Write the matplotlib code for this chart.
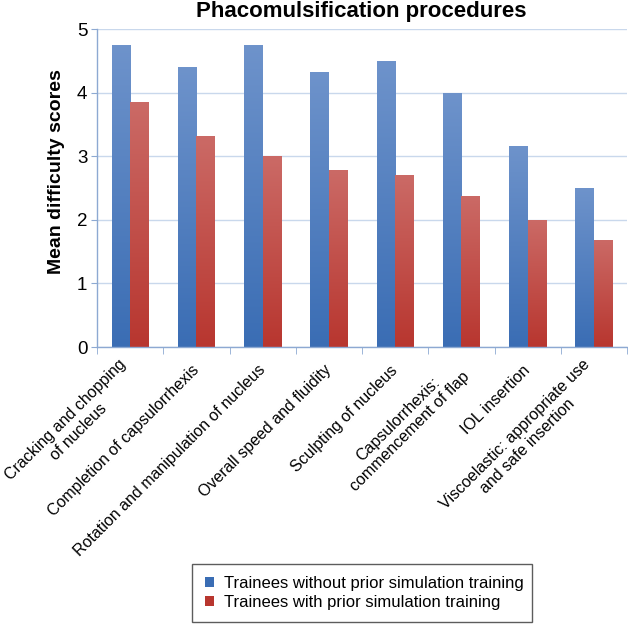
import numpy as np
import matplotlib
matplotlib.use("Agg")
import matplotlib.pyplot as plt
from matplotlib.colors import LinearSegmentedColormap
from matplotlib.patches import Patch

plt.rcParams['font.family'] = ['Liberation Sans', 'DejaVu Sans']

categories = [
    "Cracking and chopping\nof nucleus",
    "Completion of capsulorrhexis",
    "Rotation and manipulation of nucleus",
    "Overall speed and fluidity",
    "Sculpting of nucleus",
    "Capsulorrhexis:\ncommencement of flap",
    "IOL insertion",
    "Viscoelastic: appropriate use\nand safe insertion",
]
without_prior = [4.75, 4.40, 4.75, 4.33, 4.50, 4.00, 3.17, 2.50]
with_prior = [3.85, 3.32, 3.00, 2.78, 2.70, 2.38, 2.00, 1.69]
series_names = ["Trainees without prior simulation training",
                "Trainees with prior simulation training"]
yticks = [0, 1, 2, 3, 4, 5]

W, H = 628, 624
fig = plt.figure(figsize=(W / 100, H / 100), dpi=100)
ax = fig.add_axes([97 / W, 1 - 347 / H, (627 - 97) / W, (347 - 29.3) / H])

x = np.arange(len(categories))
bw = 0.28
blue_top, blue_bot = "#6E93CB", "#3A6DB4"
red_top, red_bot = "#CB6A66", "#B8362F"

b1 = ax.bar(x - bw / 2, without_prior, bw, color=blue_bot, zorder=2, linewidth=0)
b2 = ax.bar(x + bw / 2, with_prior, bw, color=red_bot, zorder=2, linewidth=0)

grad = np.linspace(0, 1, 256).reshape(-1, 1)
for bars, top, bot in ((b1, blue_top, blue_bot), (b2, red_top, red_bot)):
    cmap = LinearSegmentedColormap.from_list("g", [bot, top])
    for r in bars:
        x0, y0 = r.get_x(), r.get_y()
        w, h = r.get_width(), r.get_height()
        im = ax.imshow(grad, cmap=cmap, origin="lower", aspect="auto",
                       extent=[x0, x0 + w, y0, y0 + h], zorder=2.5,
                       vmin=0, vmax=1)
        im.set_clip_path(r)

ax.set_xlim(-0.5, len(categories) - 0.5)
ax.set_ylim(0, 5)
ax.set_yticks(yticks)
ax.grid(axis="y", color="#C9D8EC", linewidth=1.0, zorder=0)
ax.set_axisbelow(True)

for s in ("top", "right"):
    ax.spines[s].set_visible(False)
for s in ("left", "bottom"):
    ax.spines[s].set_color("#8DA9D2")
    ax.spines[s].set_linewidth(1.0)

ax.set_xticks(x)
ax.set_xticklabels(categories, rotation=45, ha="right", va="center",
                   rotation_mode="anchor", multialignment="center", fontsize=11.5)
ax.tick_params(axis="x", which="major", length=0, pad=15)
ax.set_xticks(np.arange(len(categories) + 1) - 0.5, minor=True)
ax.tick_params(axis="x", which="minor", length=5, color="#8DA9D2", direction="out")
ax.tick_params(axis="y", length=4, color="#8DA9D2", labelsize=13.5, pad=3)

fig.text(361.7 / W, 1 - 11 / H, "Phacomulsification procedures",
         ha="center", va="center", fontsize=16, fontweight="bold")
fig.text(56.5 / W, 1 - 172 / H, "Mean difficulty scores", rotation=90,
         ha="center", va="center", fontsize=14, fontweight="bold")

handles = [Patch(facecolor=blue_bot), Patch(facecolor=red_bot)]
leg = fig.legend(handles, series_names, loc="lower left",
                 bbox_to_anchor=(192 / W, 2 / H, 340 / W, 57 / H),
                 mode="expand", fontsize=12, frameon=True, fancybox=False,
                 handlelength=0.55, handleheight=0.55, handletextpad=0.6,
                 borderaxespad=0, labelspacing=0.2, borderpad=0.75)
leg.get_frame().set_edgecolor("#333333")
leg.get_frame().set_linewidth(1.0)

fig.savefig("out.png", dpi=100)
